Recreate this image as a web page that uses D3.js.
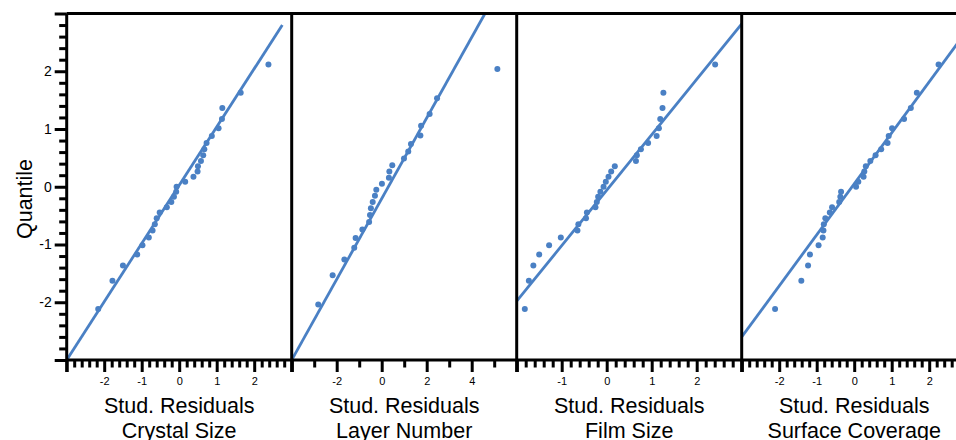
<!DOCTYPE html>
<html>
<head>
<meta charset="utf-8">
<script src="https://cdn.jsdelivr.net/npm/d3@7"></script>
<style>
body { margin: 0; background: #fff; }
text { font-family: "Liberation Sans", Arial, sans-serif; }
</style>
</head>
<body>
<div id="chart"></div>
<script>
// normal quantiles (y) -- 29 obs, and 24 obs for layer number
const quant29 = [-2.115, -1.628, -1.364, -1.171, -1.014, -0.879, -0.758, -0.648, -0.544, -0.447,
  -0.353, -0.262, -0.174, -0.087, 0, 0.087, 0.174, 0.262, 0.353, 0.447,
  0.544, 0.648, 0.758, 0.879, 1.014, 1.171, 1.364, 1.628, 2.115];
const quant24 = [-2.037, -1.534, -1.258, -1.055, -0.887, -0.742, -0.611, -0.489, -0.374, -0.264,
  -0.157, -0.052, 0.052, 0.157, 0.264, 0.374, 0.489, 0.611, 0.742, 0.887,
  1.055, 1.258, 1.534, 2.037];

// studentized residuals, sorted
const crystalSize = [-2.16, -1.78, -1.50, -1.12, -0.98, -0.81, -0.71, -0.65, -0.60, -0.52,
  -0.33, -0.21, -0.14, -0.08, -0.07, 0.16, 0.38, 0.49, 0.50, 0.58,
  0.64, 0.67, 0.73, 0.87, 1.05, 1.14, 1.15, 1.64, 2.38];
const layerNumber = [-2.82, -2.18, -1.66, -1.22, -1.16, -0.86, -0.56, -0.52, -0.48, -0.40,
  -0.30, -0.24, 0.01, 0.32, 0.34, 0.47, 0.99, 1.18, 1.30, 1.72,
  1.75, 2.13, 2.46, 5.14];
const filmSize = [-1.82, -1.73, -1.63, -1.50, -1.28, -1.02, -0.65, -0.63, -0.46, -0.44,
  -0.25, -0.22, -0.19, -0.14, -0.07, -0.02, 0.04, 0.10, 0.18, 0.65,
  0.67, 0.76, 0.92, 1.11, 1.16, 1.19, 1.24, 1.26, 2.41];
const surfaceCoverage = [-2.11, -1.41, -1.23, -1.18, -0.95, -0.84, -0.82, -0.81, -0.77, -0.65,
  -0.59, -0.40, -0.37, -0.35, 0.05, 0.11, 0.25, 0.27, 0.31, 0.43,
  0.57, 0.72, 0.89, 0.92, 1.01, 1.33, 1.51, 1.67, 2.25];

// reference lines (two end points each)
const crystalFit = [[-3, -3], [2.75, 2.8]];
const layerFit = [[-4, -3], [4.59, 3]];
const filmFit = [[-2, -1.98], [3, 2.82]];
const surfaceFit = [[-3, -2.6], [3, 2.7]];

// tick labels
const crystalTicks = [-2, -1, 0, 1, 2];
const layerTicks = [-2, 0, 2, 4];
const filmTicks = [-1, 0, 1, 2];
const surfaceTicks = [-2, -1, 0, 1, 2];
const yTicks = [-2, -1, 0, 1, 2];

const panelNames = ["Crystal Size", "Layer Number", "Film Size", "Surface Coverage"];

const width = 956, height = 440;
const plotLeft = 66.7, plotTop = 13.5, plotBottom = 360, panelW = 225;
const blue = "#4a80c4";

const svg = d3.select("#chart").append("svg")
    .attr("width", width)
    .attr("height", height);

const y = d3.scaleLinear().domain([-3, 3]).range([plotBottom, plotTop]);

const panels = [
  { name: panelNames[0], resid: crystalSize, q: quant29, domain: [-3, 3], major: 1, minor: 0.2, labels: crystalTicks, fit: crystalFit },
  { name: panelNames[1], resid: layerNumber, q: quant24, domain: [-4, 6], major: 2, minor: 1, labels: layerTicks, fit: layerFit },
  { name: panelNames[2], resid: filmSize, q: quant29, domain: [-2, 3], major: 1, minor: 0.2, labels: filmTicks, fit: filmFit },
  { name: panelNames[3], resid: surfaceCoverage, q: quant29, domain: [-3, 3], major: 1, minor: 0.2, labels: surfaceTicks, fit: surfaceFit }
];

function styleAxis(g) {
  g.select(".domain").remove();
  g.selectAll(".tick line").attr("stroke", "#000").attr("stroke-width", 3);
  g.selectAll(".tick text").attr("fill", "#000");
}

panels.forEach((p, i) => {
  const x0 = plotLeft + i * panelW;
  const x = d3.scaleLinear().domain(p.domain).range([x0, x0 + panelW]);

  svg.append("clipPath").attr("id", "clip" + i)
    .append("rect")
    .attr("x", x0).attr("y", plotTop)
    .attr("width", panelW).attr("height", plotBottom - plotTop);

  const g = svg.append("g").attr("clip-path", `url(#clip${i})`);

  g.append("path")
    .datum(p.fit)
    .attr("d", d3.line().x(d => x(d[0])).y(d => y(d[1])))
    .attr("stroke", blue)
    .attr("stroke-width", 2.8)
    .attr("fill", "none");

  g.selectAll("circle")
    .data(p.resid.map((r, k) => [r, p.q[k]]))
    .enter().append("circle")
    .attr("cx", d => x(d[0]))
    .attr("cy", d => y(d[1]))
    .attr("r", 3)
    .attr("fill", blue);

  // x ticks
  const minorVals = d3.range(p.domain[0], p.domain[1] + 1e-6, p.minor)
    .filter(v => Math.abs(Math.round(v / p.major) * p.major - v) > 1e-6);
  const majorVals = d3.range(p.domain[0], p.domain[1] + 1e-6, p.major);

  svg.append("g")
    .attr("transform", `translate(0,${plotBottom})`)
    .call(d3.axisBottom(x).tickValues(minorVals).tickSize(7.5).tickFormat(""))
    .call(styleAxis);

  svg.append("g")
    .attr("transform", `translate(0,${plotBottom})`)
    .call(d3.axisBottom(x).tickValues(majorVals).tickSize(12).tickPadding(5)
      .tickFormat(d => p.labels.includes(d) ? String(d) : ""))
    .call(styleAxis)
    .selectAll(".tick text")
    .style("font-size", "11px");

  // axis titles
  const cx = x0 + panelW / 2;
  svg.append("text")
    .attr("x", cx).attr("y", 413)
    .attr("text-anchor", "middle")
    .style("font-size", "21.5px")
    .text("Stud. Residuals");
  svg.append("text")
    .attr("x", cx).attr("y", 438)
    .attr("text-anchor", "middle")
    .style("font-size", "21.5px")
    .text(p.name);

  // panel divider
  svg.append("line")
    .attr("x1", x0).attr("x2", x0)
    .attr("y1", plotTop).attr("y2", 372)
    .attr("stroke", "#000").attr("stroke-width", 3);
});

// y axis
const yMinor = d3.range(-3, 3.0001, 0.2).filter(v => Math.abs(Math.round(v) - v) > 1e-6);
svg.append("g")
  .attr("transform", `translate(${plotLeft},0)`)
  .call(d3.axisLeft(y).tickValues(yMinor).tickSize(7.5).tickFormat(""))
  .call(styleAxis);
svg.append("g")
  .attr("transform", `translate(${plotLeft},0)`)
  .call(d3.axisLeft(y).tickValues(d3.range(-3, 4, 1)).tickSize(12).tickPadding(3)
    .tickFormat(d => yTicks.includes(d) ? String(d) : ""))
  .call(styleAxis)
  .selectAll(".tick text")
  .style("font-size", "14px");

// frame top and bottom
svg.append("line")
  .attr("x1", plotLeft).attr("x2", width)
  .attr("y1", plotTop).attr("y2", plotTop)
  .attr("stroke", "#000").attr("stroke-width", 3);
svg.append("line")
  .attr("x1", plotLeft).attr("x2", width)
  .attr("y1", plotBottom).attr("y2", plotBottom)
  .attr("stroke", "#000").attr("stroke-width", 3);

svg.append("text")
  .attr("transform", `translate(32,199) rotate(-90)`)
  .attr("text-anchor", "middle")
  .style("font-size", "21.5px")
  .text("Quantile");
</script>
</body>
</html>
